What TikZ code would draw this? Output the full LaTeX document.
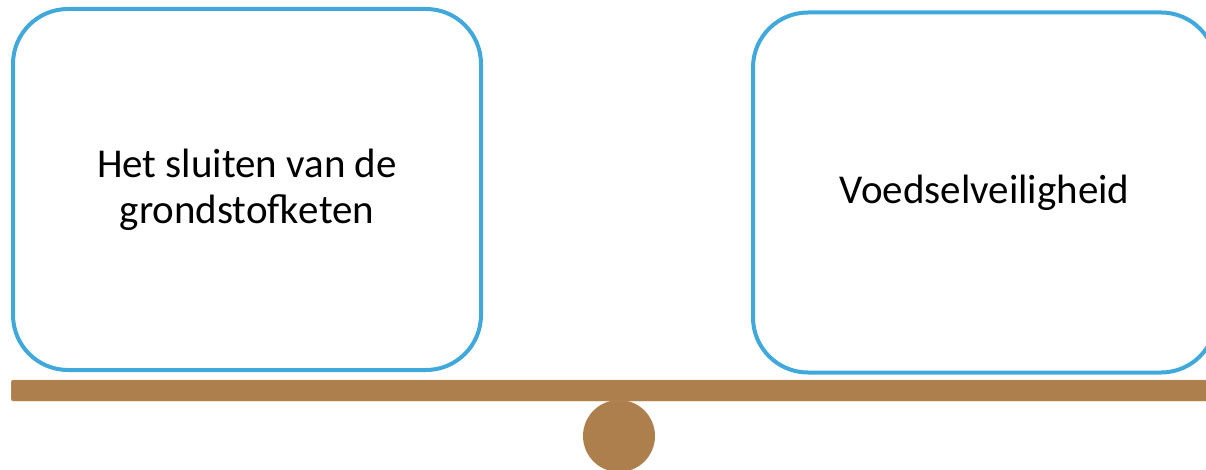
\documentclass[tikz,border=0pt]{standalone}
\usepackage{fontspec}
\setmainfont{Carlito}
\usepackage{tikz}
\definecolor{boxblue}{RGB}{65,168,220}
\definecolor{beambrown}{RGB}{173,127,76}
\tikzstyle{pan}=[draw=boxblue, line width=4pt, fill=white, rounded corners=55pt, align=center, font=\fontsize{41pt}{46pt}\selectfont]
\tikzstyle{beam}=[fill=beambrown, draw=beambrown!80!white, thin, rounded corners=2pt, inner sep=0pt]

\begin{document}
\begin{tikzpicture}[x=1pt, y=-1pt]
        \useasboundingbox (0,0) rectangle (1206,470);
        % fulcrum
        \node[circle, fill=beambrown, minimum size=72pt, inner sep=0pt] (pivot) at (619,436) {};
        % beam
        \node[beam, minimum width=1205pt, minimum height=21pt, anchor=west] (plank) at (11,390.5) {};
        % left pan
        \node[pan, minimum width=468pt, minimum height=361pt] (left) at (247,189.5) {Het sluiten van de\\grondstofketen};
        % right pan
        \node[pan, minimum width=463pt, minimum height=360pt] (right) at (984.5,192.5) {Voedselveiligheid};
    \end{tikzpicture}
\end{document}
